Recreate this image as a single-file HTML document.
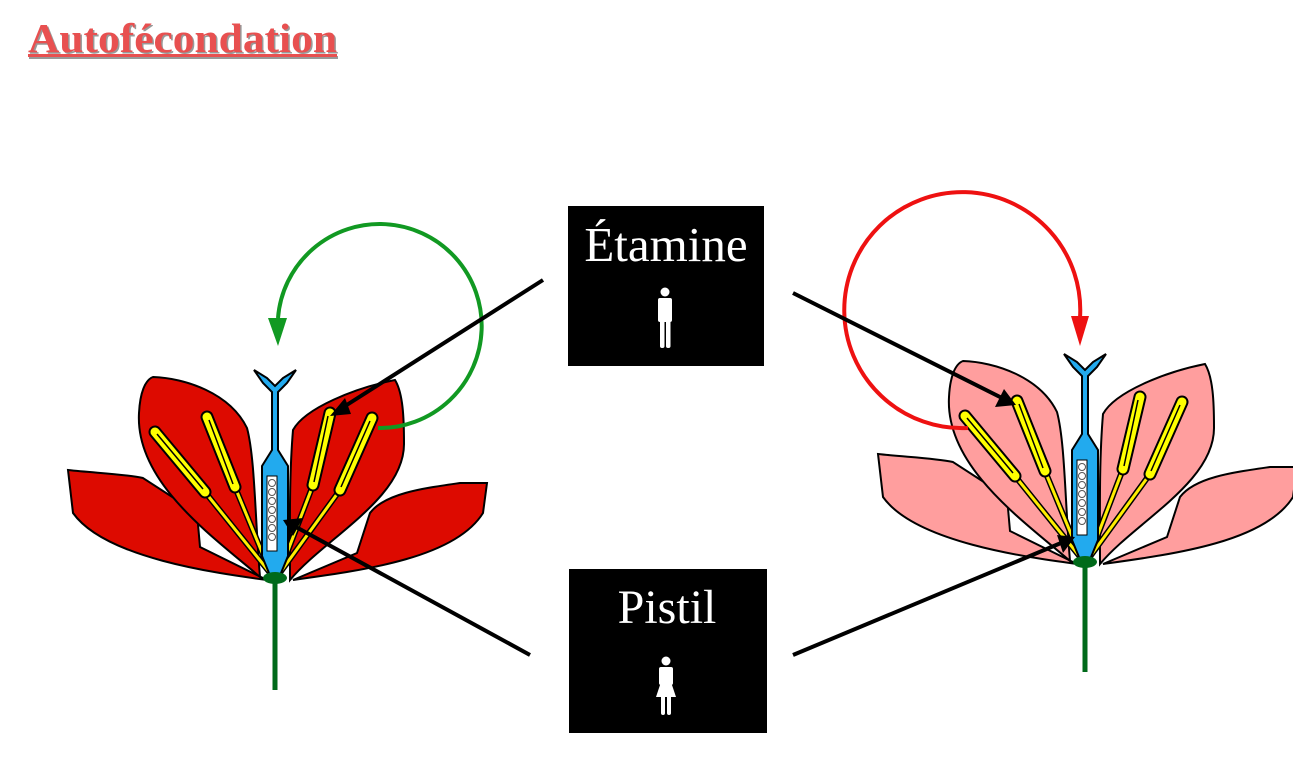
<!DOCTYPE html>
<html><head><meta charset="utf-8"><style>
html,body{margin:0;padding:0;background:#fff;}
svg{display:block;}
</style></head><body>
<svg width="1293" height="770" viewBox="0 0 1293 770" xmlns="http://www.w3.org/2000/svg">
<defs>
<g id="stamens">
  <g stroke="#000" stroke-width="6" stroke-linecap="round">
    <line x1="-70" y1="-86" x2="-4" y2="-4"/><line x1="-40" y1="-91" x2="-4" y2="-4"/>
    <line x1="38" y1="-93" x2="4" y2="-4"/><line x1="65" y1="-88" x2="4" y2="-4"/>
  </g>
  <g stroke="#ffee00" stroke-width="3">
    <line x1="-70" y1="-86" x2="-4" y2="-4"/><line x1="-40" y1="-91" x2="-4" y2="-4"/>
    <line x1="38" y1="-93" x2="4" y2="-4"/><line x1="65" y1="-88" x2="4" y2="-4"/>
  </g>
  <g stroke="#000" stroke-width="13" stroke-linecap="round">
    <line x1="-120" y1="-146" x2="-70" y2="-86"/><line x1="-68" y1="-161" x2="-40" y2="-91"/>
    <line x1="55" y1="-165" x2="38" y2="-93"/><line x1="97" y1="-160" x2="65" y2="-88"/>
  </g>
  <g stroke="#ffff00" stroke-width="9" stroke-linecap="round">
    <line x1="-120" y1="-146" x2="-70" y2="-86"/><line x1="-68" y1="-161" x2="-40" y2="-91"/>
    <line x1="55" y1="-165" x2="38" y2="-93"/><line x1="97" y1="-160" x2="65" y2="-88"/>
  </g>
  <g stroke="#000" stroke-width="1.5">
    <line x1="-118" y1="-144" x2="-72" y2="-89"/><line x1="-66" y1="-158" x2="-42" y2="-94"/>
    <line x1="53" y1="-162" x2="39" y2="-96"/><line x1="95" y1="-157" x2="66" y2="-91"/>
  </g>
</g>
<g id="pistil">
  <path d="M-21,-208 L-8,-200 L0,-192 L8,-200 L21,-208 L12,-195 L3,-186 L3,-128 L13,-112 L13,-22 L4,0 L-4,0 L-13,-22 L-13,-112 L-3,-128 L-3,-186 L-12,-195 Z" fill="#22aaee" stroke="#000" stroke-width="2"/>
  <rect x="-8" y="-102" width="10" height="75" fill="#fff" stroke="#000" stroke-width="1"/>
  <g fill="#fff" stroke="#555" stroke-width="1">
    <circle cx="-3" cy="-95" r="3.5"/><circle cx="-3" cy="-86" r="3.5"/><circle cx="-3" cy="-77" r="3.5"/><circle cx="-3" cy="-68" r="3.5"/><circle cx="-3" cy="-59" r="3.5"/><circle cx="-3" cy="-50" r="3.5"/><circle cx="-3" cy="-41" r="3.5"/>
  </g>
</g>
<g id="petals">
  <path d="M-207,-108 C-180,-105 -150,-104 -132,-100 L-78,-65 L-75,-31 L-8,2 C-60,-5 -170,-20 -202,-65 Z"/>
  <path d="M212,-95 L185,-95 C150,-90 110,-85 95,-65 L82,-25 L18,2 C90,-8 180,-20 208,-65 Z"/>
  <path d="M-15,-1 C-60,-40 -140,-95 -136,-165 C-135,-185 -130,-198 -122,-201 C-90,-200 -45,-185 -28,-150 C-20,-120 -20,-60 -15,-1 Z"/>
  <path d="M15,2 C50,-40 130,-80 129,-135 C129,-160 128,-185 120,-198 C80,-190 30,-170 18,-148 C14,-100 15,-50 15,2 Z"/>
</g>
</defs>

<!-- Title -->
<text x="28" y="52" font-family="Liberation Serif, serif" font-weight="bold" font-size="41" fill="#999" textLength="309" lengthAdjust="spacingAndGlyphs" transform="translate(1.5,1.5)">Autofécondation</text>
<rect x="29" y="56" width="309" height="3" fill="#999"/>
<text x="28" y="52" font-family="Liberation Serif, serif" font-weight="bold" font-size="41" fill="#e85050" textLength="309" lengthAdjust="spacingAndGlyphs">Autofécondation</text>
<rect x="28" y="54" width="309" height="3" fill="#e85050"/>

<!-- Left flower -->
<g transform="translate(275,578)">
  <line x1="0" y1="0" x2="0" y2="112" stroke="#006a1a" stroke-width="5"/>
  <use href="#petals" fill="#dd0a00" stroke="#000" stroke-width="2"/>
  <use href="#stamens"/>
  <use href="#pistil"/>
  <ellipse cx="0" cy="0" rx="12" ry="6" fill="#006a1a"/>
</g>
<path d="M378,428 A102,102 0 1 0 278,318" fill="none" stroke="#119922" stroke-width="4"/>
<polygon points="268,318 287,318 278,346" fill="#119922"/>

<!-- Right flower -->
<g transform="translate(1085,562)">
  <line x1="0" y1="0" x2="0" y2="110" stroke="#006a1a" stroke-width="5"/>
  <use href="#petals" fill="#ff9e9e" stroke="#000" stroke-width="2"/>
  <use href="#stamens"/>
  <use href="#pistil"/>
  <ellipse cx="0" cy="0" rx="12" ry="6" fill="#006a1a"/>
</g>
<path d="M968,428 A118,118 0 1 1 1080,318" fill="none" stroke="#ee1111" stroke-width="4"/>
<polygon points="1071,316 1089,316 1080,346" fill="#ee1111"/>

<!-- Label boxes -->
<rect x="568" y="206" width="196" height="160" fill="#000"/>
<text x="666" y="261" text-anchor="middle" font-family="Liberation Serif, serif" font-size="49" fill="#fff">Étamine</text>
<g fill="#fff">
  <circle cx="665" cy="292" r="4.5"/>
  <rect x="658" y="298" width="14" height="24" rx="2"/>
  <rect x="660" y="318" width="4.5" height="30" rx="2"/>
  <rect x="666" y="318" width="4.5" height="30" rx="2"/>
</g>
<rect x="569" y="569" width="198" height="164" fill="#000"/>
<text x="667" y="623" text-anchor="middle" font-family="Liberation Serif, serif" font-size="48" fill="#fff">Pistil</text>
<g fill="#fff">
  <circle cx="666" cy="661" r="4.5"/>
  <rect x="659" y="667" width="14" height="18" rx="2"/>
  <polygon points="661,682 671,682 676,697 656,697"/>
  <rect x="661" y="695" width="4" height="20" rx="2"/>
  <rect x="667" y="695" width="4" height="20" rx="2"/>
</g>

<!-- Pointer lines -->
<g stroke="#000" stroke-width="4">
  <line x1="543" y1="280" x2="342" y2="408"/>
  <line x1="530" y1="655" x2="296" y2="527"/>
  <line x1="793" y1="293" x2="1002" y2="398"/>
  <line x1="793" y1="655" x2="1061" y2="543"/>
</g>
<g fill="#000">
  <polygon points="330,416 345,398 351,414"/>
  <polygon points="283,520 303,518 293,536"/>
  <polygon points="1016,405 995,407 1004,389"/>
  <polygon points="1075,537 1063,553 1057,535"/>
</g>
</svg>
</body></html>
